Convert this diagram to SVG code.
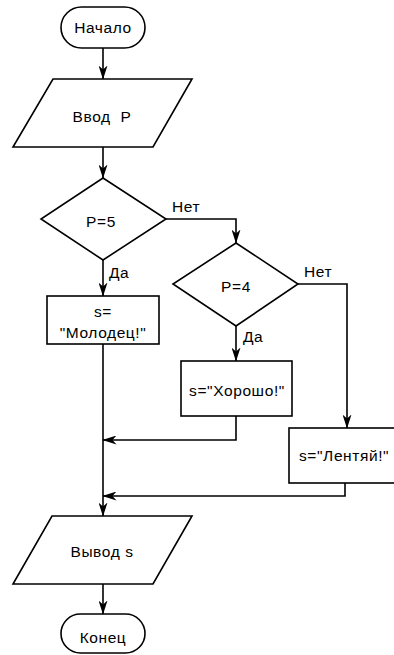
<svg xmlns="http://www.w3.org/2000/svg" width="394" height="655" viewBox="0 0 394 655">
<defs>
<marker id="arr" viewBox="0 0 14 9" refX="13.5" refY="4.5" markerWidth="14" markerHeight="9" markerUnits="userSpaceOnUse" orient="auto">
<path d="M0,0 L14,4.5 L0,9 L4,4.5 z" fill="#000"/>
</marker>
</defs>
<style>
.s{fill:#fff;stroke:#000;stroke-width:1.6}
.c{fill:none;stroke:#000;stroke-width:1.6}
text{font-family:"Liberation Sans",Arial,sans-serif;font-size:15.5px;fill:#000;letter-spacing:0.6px}
.m{text-anchor:middle}
</style>
<rect width="394" height="655" fill="#fff"/>
<g id="connectors">
<path class="c" d="M103,48 V79" marker-end="url(#arr)"/>
<path class="c" d="M103,147 V178" marker-end="url(#arr)"/>
<path class="c" d="M103,260 V296" marker-end="url(#arr)"/>
<path class="c" d="M166,219 H236 V243" marker-end="url(#arr)"/>
<path class="c" d="M236,326 V361" marker-end="url(#arr)"/>
<path class="c" d="M298,284 H347 V428" marker-end="url(#arr)"/>
<path class="c" d="M236,416 V440 H103" marker-end="url(#arr)"/>
<path class="c" d="M345,483 V496 H103" marker-end="url(#arr)"/>
<path class="c" d="M103,344 V516" marker-end="url(#arr)"/>
<path class="c" d="M103,584 V614" marker-end="url(#arr)"/>
<text x="172" y="212">Нет</text>
<text x="109" y="278">Да</text>
<text x="304" y="277">Нет</text>
<text x="243" y="342">Да</text>
</g>
<g id="start">
<rect class="s" x="61" y="7" width="84" height="41" rx="20.5"/>
<text class="m" x="103" y="33">Начало</text>
</g>
<g id="input">
<polygon class="s" points="53,79 192,79 153,147 13,147"/>
<text class="m" x="102" y="122" xml:space="preserve">Ввод  P</text>
</g>
<g id="cond1">
<polygon class="s" points="103,178 166,219 103,260 41,219"/>
<text class="m" x="101" y="227">P=5</text>
</g>
<g id="molodec">
<rect class="s" x="47" y="296" width="112" height="48"/>
<text class="m" x="103" y="317">s=</text>
<text class="m" x="103" y="338">"Молодец!"</text>
</g>
<g id="cond2">
<polygon class="s" points="236,243 298,284 236,326 173,284"/>
<text class="m" x="236" y="292">P=4</text>
</g>
<g id="horosho">
<rect class="s" x="181" y="361" width="111" height="55"/>
<text class="m" x="237" y="396">s="Хорошо!"</text>
</g>
<g id="lentyay">
<rect class="s" x="289" y="428" width="116" height="55"/>
<text x="299" y="461">s="Лентяй!"</text>
</g>
<g id="output">
<polygon class="s" points="52,516 192,516 153,584 13,584"/>
<text class="m" x="102" y="557">Вывод s</text>
</g>
<g id="end">
<rect class="s" x="61" y="614" width="84" height="39" rx="19.5"/>
<text class="m" x="103" y="643">Конец</text>
</g>
</svg>
